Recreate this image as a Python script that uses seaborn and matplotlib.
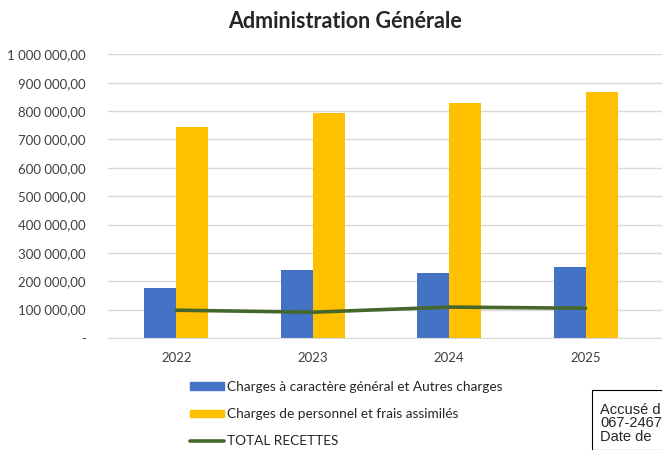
import numpy as np
import pandas as pd
import matplotlib
matplotlib.use("Agg")
import matplotlib.pyplot as plt
import matplotlib.patches as mpatches
import seaborn as sns


# ---------------------------------------------------------------------------
# Data
# ---------------------------------------------------------------------------

years = ["2022", "2023", "2024", "2025"]
charges_generales = [178000, 239000, 228000, 250000]
charges_personnel = [743000, 793000, 830000, 868000]
total_recettes = [98000, 91000, 109000, 105000]

bar_labels = ["Charges à caractère général et Autres charges",
              "Charges de personnel et frais assimilés"]
line_label = "TOTAL RECETTES"
title = "Administration Générale"
y_ticks = [0, 100000, 200000, 300000, 400000, 500000,
           600000, 700000, 800000, 900000, 1000000]
stamp_lines = ["Accusé d", "067-2467", "Date de"]

bar_colors = ["#4472C4", "#FFC000"]
line_color = "#46672B"
grid_color = "#D9D9D9"


def fr_money(v):
    if v == 0:
        return "-"
    s = f"{v:,.2f}"
    return s.replace(",", " ").replace(".", ",")


# ---------------------------------------------------------------------------
# Plot
# ---------------------------------------------------------------------------

sns.set_style("white")
plt.rcParams["font.family"] = ["Lato", "DejaVu Sans"]

df = pd.DataFrame({
    "year": years * 2,
    "value": charges_generales + charges_personnel,
    "serie": [bar_labels[0]] * len(years) + [bar_labels[1]] * len(years),
})

fig = plt.figure(figsize=(6.62, 4.5), dpi=100)
ax = fig.add_axes([108 / 662, 1 - 338 / 450, 1 - 108 / 662, (338 - 54.4) / 450])

sns.barplot(data=df, x="year", y="value", hue="serie", hue_order=bar_labels,
            palette=bar_colors, saturation=1, width=0.47, edgecolor="none",
            ax=ax, legend=False)
sns.lineplot(x=years, y=total_recettes, ax=ax, color=line_color, lw=2.6,
             sort=False, label=line_label, legend=False)

ax.set_ylim(0, 1000000)
ax.set_xlim(-0.5, -0.5 + (662 - 108) / 136.5)
ax.set_yticks(y_ticks)
ax.set_yticklabels([fr_money(v) for v in y_ticks], fontsize=9.5, color="#404040")
ax.tick_params(axis="x", labelsize=9.5, colors="#404040", length=0, pad=10)
ax.tick_params(axis="y", length=0, pad=16)
ax.set_xlabel("")
ax.set_ylabel("")
ax.yaxis.grid(True, color=grid_color, lw=1)
ax.set_axisbelow(True)
for side in ["top", "right", "left"]:
    ax.spines[side].set_visible(False)
ax.spines["bottom"].set_color(grid_color)

fig.text(345 / 662, 1 - 22 / 450, title, ha="center", va="center",
         fontsize=15.5, fontweight="bold")

handles = [mpatches.Patch(color=c, label=l) for c, l in zip(bar_colors, bar_labels)]
handles.append(plt.Line2D([], [], color=line_color, lw=2.6, label=line_label))
fig.legend(handles=handles, loc="upper left", bbox_to_anchor=(190 / 662, 1 - 381 / 450),
           frameon=False, fontsize=9.8, handlelength=2.5, handleheight=0.45,
           labelspacing=1.12, handletextpad=0.2, borderaxespad=0, borderpad=0)

# stamp box in the lower right corner (clipped by the image edge)
fig.patches.append(mpatches.Rectangle((592 / 662, 0), 0.2, 1 - 390 / 450,
                                      transform=fig.transFigure, facecolor="white",
                                      edgecolor="black", lw=0.8))
fig.text(600 / 662, 1 - 403 / 450, "\n".join(stamp_lines),
         ha="left", va="top", fontsize=10.5, linespacing=0.95,
         family=["Liberation Sans", "DejaVu Sans"])

fig.savefig("out.png", dpi=100)
